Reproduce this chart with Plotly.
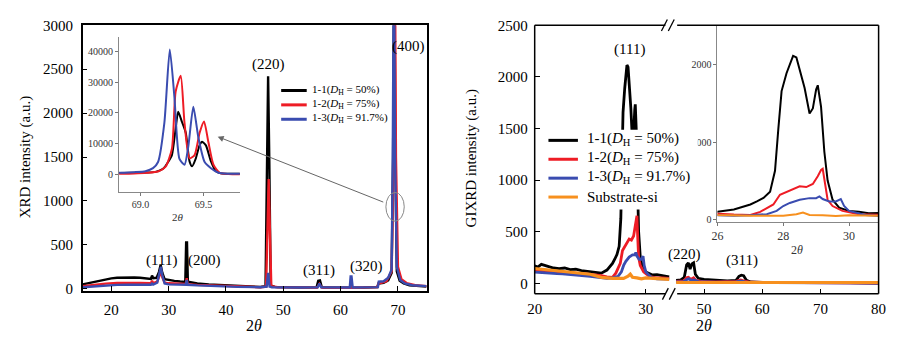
import plotly.graph_objects as go

W, H = 921, 343
def px(x): return x / W
def py(y): return 1 - y / H

# ---------------- Left panel: XRD (main) ----------------
xrd_black_x = [15, 16, 17, 18, 19, 20, 21, 22, 23, 24, 25, 26, 26.9, 27.1, 27.3, 27.9, 28.3, 28.6, 28.9, 29.3, 30, 31, 32, 32.9, 33.05, 33.2, 33.35, 34, 35, 37, 40, 43, 46, 46.9, 47.15, 47.35, 47.55, 47.8, 48.5, 50, 53, 55.8, 56.1, 56.4, 56.7, 57, 60, 61.6, 61.8, 62.0, 64, 66.4, 66.6, 67.5, 68.3, 68.9, 69.15, 69.35, 69.55, 69.8, 70.3, 71, 72, 73.5, 75]
xrd_black_y = [50, 65, 80, 95, 108, 118, 125, 129, 130, 129, 125, 118, 112, 150, 120, 125, 190, 272, 180, 110, 100, 90, 82, 78, 527, 527, 80, 70, 60, 48, 36, 27, 20, 30, 1500, 2420, 1500, 40, 22, 18, 14, 16, 90, 95, 22, 14, 12, 13, 30, 13, 14, 20, 60, 68, 95, 180, 1500, 4000, 1500, 200, 90, 60, 40, 30, 24]

xrd_red_x = [15, 17, 19, 21, 23, 25, 26.9, 27.1, 27.3, 28.0, 28.4, 28.65, 28.9, 29.3, 30, 32, 33.0, 33.15, 33.3, 35, 38, 42, 46, 47.0, 47.25, 47.45, 47.65, 47.9, 49, 52, 55.9, 56.3, 56.7, 60, 61.7, 61.8, 62, 66.4, 66.6, 68, 68.9, 69.25, 69.45, 69.65, 70, 70.6, 71.5, 73, 75]
xrd_red_y = [28, 45, 58, 65, 68, 66, 62, 90, 65, 80, 150, 210, 130, 70, 62, 55, 55, 120, 52, 44, 35, 25, 18, 25, 800, 1250, 700, 30, 18, 15, 14, 55, 14, 12, 13, 40, 12, 18, 60, 85, 200, 1500, 4000, 1500, 250, 110, 65, 40, 30]

xrd_blue_x = [15, 17, 19, 21, 23, 25, 26.9, 27.1, 27.3, 28.0, 28.4, 28.65, 28.9, 29.3, 30, 32, 33.0, 33.15, 33.3, 35, 38, 42, 46, 47.1, 47.35, 47.6, 48, 50, 53, 56.0, 56.3, 56.6, 58, 61.6, 61.75, 61.9, 62.1, 64, 66.5, 66.65, 67.5, 68.3, 68.9, 69.1, 69.3, 69.5, 69.8, 70.4, 71.2, 72.5, 75]
xrd_blue_y = [18, 28, 38, 44, 46, 46, 45, 60, 48, 70, 170, 250, 150, 60, 50, 45, 45, 100, 45, 38, 30, 22, 18, 25, 180, 25, 18, 15, 14, 16, 60, 16, 14, 15, 140, 140, 15, 14, 18, 80, 85, 125, 220, 1500, 4000, 1500, 250, 100, 60, 40, 30]

# ---------------- Left inset: (400) peak ----------------
ins_black_x = [68.83, 68.95, 69.05, 69.12, 69.18, 69.22, 69.25, 69.28, 69.30, 69.33, 69.36, 69.39, 69.41, 69.44, 69.47, 69.49, 69.52, 69.56, 69.60, 69.64, 69.70, 69.79]
ins_black_y = [400, 500, 600, 800, 1800, 4000, 6250, 15000, 20300, 17000, 13500, 4200, 2600, 5200, 9500, 10600, 9400, 4200, 1000, 300, 200, 200]

ins_red_x = [68.83, 68.95, 69.05, 69.14, 69.20, 69.25, 69.28, 69.32, 69.35, 69.39, 69.43, 69.47, 69.505, 69.54, 69.58, 69.63, 69.70, 69.79]
ins_red_y = [200, 300, 500, 900, 2500, 8300, 27000, 32000, 16700, 5200, 6250, 13500, 17200, 10400, 3100, 500, 100, 0]

ins_blue_x = [68.83, 68.95, 69.04, 69.10, 69.14, 69.19, 69.233, 69.27, 69.31, 69.35, 69.38, 69.42, 69.46, 69.51, 69.56, 69.62, 69.70, 69.79]
ins_blue_y = [500, 700, 1000, 2000, 4000, 16700, 40600, 25000, 5000, 3100, 9000, 22000, 12000, 4000, 2000, 500, 200, 150]

# ---------------- Right panel: GIXRD ----------------
gi_black_x = [20, 20.3, 20.6, 20.9, 21.3, 21.7, 22.2, 22.7, 23.2, 23.7, 24.2, 24.7, 25.2, 25.6, 26.0, 26.5, 27.0, 27.2, 27.4, 27.6, 27.75, 27.85, 27.95, 28.1, 28.3, 28.4, 28.5, 28.65, 28.8, 28.9, 29.0, 29.05, 29.15, 29.25, 29.35, 29.5, 29.7, 30.0, 30.3, 30.6, 31.0, 31.4, 31.8, 32.1, None, 45.2, 46, 46.6, 47.0, 47.3, 47.6, 47.9, 48.2, 48.5, 49, 50, 52, 54, 55.5, 56, 56.4, 56.8, 57.3, 58, 60, 65, 70, 75, 80]
gi_black_y = [170, 160, 185, 175, 160, 150, 145, 150, 135, 140, 125, 120, 115, 110, 100, 130, 195, 235, 280, 360, 630, 1165, 1660, 1890, 2115, 2095, 1950, 1700, 1370, 1435, 1680, 1735, 1455, 876, 504, 256, 153, 112, 100, 83, 85, 75, 70, 65, None, 30, 35, 60, 180, 200, 140, 190, 200, 90, 50, 40, 32, 25, 30, 70, 80, 75, 30, 15, 10, 12, 10, 8, 5]

gi_red_x = [20, 20.5, 21, 21.5, 22, 22.5, 23, 23.5, 24, 24.5, 25, 25.5, 26, 26.5, 27, 27.3, 27.5, 27.7, 27.9, 28.0, 28.2, 28.5, 28.7, 28.9, 29.05, 29.15, 29.2, 29.25, 29.35, 29.5, 29.8, 30.3, 30.9, 31.5, 32.1, None, 45.2, 46.5, 47.0, 47.3, 47.7, 48.2, 48.6, 49.5, 52, 55.5, 56.3, 57, 58, 62, 70, 80]
gi_red_y = [130, 125, 120, 118, 112, 108, 105, 100, 95, 92, 88, 85, 75, 65, 60, 100, 150, 195, 320, 340, 380, 430, 420, 460, 560, 640, 655, 500, 256, 175, 112, 70, 55, 55, 50, None, 20, 25, 55, 60, 40, 55, 30, 20, 15, 20, 35, 22, 12, 10, 8, 5]

gi_blue_x = [20, 20.5, 21, 21.5, 22, 22.5, 23, 23.5, 24, 24.5, 25, 25.5, 26, 26.5, 27, 27.5, 27.8, 28.0, 28.2, 28.5, 28.8, 29.0, 29.1, 29.2, 29.4, 29.6, 29.75, 29.85, 30.0, 30.5, 31, 31.6, 32.1, None, 45.2, 46.5, 47.1, 47.4, 47.8, 48.3, 49, 52, 55.5, 56.3, 57, 58, 62, 70, 80]
gi_blue_y = [110, 105, 100, 98, 95, 93, 90, 85, 80, 75, 70, 65, 55, 50, 55, 70, 112, 175, 215, 256, 277, 277, 300, 265, 235, 235, 265, 175, 112, 58, 45, 45, 42, None, 15, 18, 40, 45, 30, 35, 18, 12, 15, 25, 15, 10, 8, 7, 5]

gi_orange_x = [20, 21, 22, 23, 24, 25, 26, 27, 28, 28.4, 28.6, 28.8, 29.2, 29.6, 30, 30.5, 31, 31.5, 32.1, None, 45.2, 50, 55, 60, 65, 70, 75, 80]
gi_orange_y = [145, 135, 125, 115, 100, 90, 60, 50, 50, 70, 90, 60, 55, 45, 55, 50, 45, 45, 40, None, 10, 10, 10, 10, 10, 10, 10, 10]

xrd_names = ['1-1(<i>D</i><sub>H</sub> = 50%)', '1-2(<i>D</i><sub>H</sub> = 75%)', '1-3(<i>D</i><sub>H</sub> = 91.7%)']
gi_names = xrd_names + ['Substrate-si']

BLACK, RED, BLUE, ORANGE = '#000000', '#ee1c25', '#3a4cb0', '#f7901e'
FONT = 'Liberation Serif'

fig = go.Figure()

left_main = [(xrd_black_x, xrd_black_y, BLACK), (xrd_red_x, xrd_red_y, RED), (xrd_blue_x, xrd_blue_y, BLUE)]
for (xs, ys, c), nm in zip(left_main, xrd_names):
    fig.add_trace(go.Scatter(x=xs, y=ys, mode='lines', line=dict(color=c, width=2.4),
                             name=nm, showlegend=False, xaxis='x', yaxis='y'))

left_ins = [(ins_black_x, ins_black_y, BLACK), (ins_red_x, ins_red_y, RED), (ins_blue_x, ins_blue_y, BLUE)]
for xs, ys, c in left_ins:
    fig.add_trace(go.Scatter(x=xs, y=ys, mode='lines', line=dict(color=c, width=2, shape='spline', smoothing=0.6),
                             showlegend=False, xaxis='x2', yaxis='y2'))

right = [(gi_black_x, gi_black_y, BLACK, 2.8), (gi_red_x, gi_red_y, RED, 2.8),
         (gi_blue_x, gi_blue_y, BLUE, 2.8), (gi_orange_x, gi_orange_y, ORANGE, 3.2)]
for (xs, ys, c, w), nm in zip(right, gi_names):
    fig.add_trace(go.Scatter(x=xs, y=ys, mode='lines', line=dict(color=c, width=w),
                             name=nm, showlegend=False, xaxis='x3', yaxis='y3'))
for xs, ys, c, w in right:
    fig.add_trace(go.Scatter(x=xs, y=ys, mode='lines', line=dict(color=c, width=w),
                             showlegend=False, xaxis='x4', yaxis='y3'))
for xs, ys, c, w in right:
    fig.add_trace(go.Scatter(x=xs, y=ys, mode='lines', line=dict(color=c, width=2),
                             showlegend=False, xaxis='x5', yaxis='y5'))

main_tick = dict(family=FONT, size=15, color='black')
common = dict(showgrid=False, zeroline=False, tickfont=main_tick, ticks='inside', ticklen=5,
              tickcolor='black', tickwidth=1.2)
inset_common = dict(showgrid=False, zeroline=False, ticks='outside', ticklen=3, tickcolor='#777',
                    showline=True, linecolor='#888', linewidth=1, mirror=False)

fig.update_layout(
    width=W, height=H, margin=dict(l=0, r=0, t=0, b=0),
    paper_bgcolor='white', plot_bgcolor='white', showlegend=False,
    font=dict(family=FONT, color='black'),
    xaxis=dict(domain=[px(76), px(426)], range=[15, 75], anchor='y', tickvals=[20, 30, 40, 50, 60, 70],
               showline=True, mirror=True, linecolor='black', linewidth=1.5, ticklabelstandoff=4, **common),
    yaxis=dict(domain=[py(295), py(18)], range=[-25, 3000], anchor='x', tickvals=[0, 500, 1000, 1500, 2000, 2500, 3000],
               showline=True, mirror=True, linecolor='black', linewidth=1.5, ticklabelstandoff=5, **common),
    xaxis2=dict(domain=[px(113), px(236)], range=[68.83, 69.79], anchor='y2', tickvals=[69.0, 69.5],
                ticktext=['69.0', '69.5'], tickfont=dict(family=FONT, size=10, color='#333'), **inset_common),
    yaxis2=dict(domain=[py(192), py(30)], range=[-5800, 44700], anchor='x2', tickvals=[0, 10000, 20000, 30000, 40000],
                tickformat='d', tickfont=dict(family=FONT, size=10, color='#333'), **inset_common),
    xaxis3=dict(domain=[px(536), px(674)], range=[20, 32.2], anchor='y3', tickvals=[20, 30],
                showline=False, ticklabelstandoff=4, **common),
    xaxis4=dict(domain=[px(677), px(886)], range=[44.7, 80], anchor='y3', tickvals=[50, 60, 70, 80],
                showline=False, ticklabelstandoff=4, **common),
    yaxis3=dict(domain=[py(298), py(18)], range=[-100, 2500], anchor='x3', tickvals=[0, 500, 1000, 1500, 2000, 2500],
                showline=False, ticklabelstandoff=6, **common),
    xaxis5=dict(domain=[px(722), px(886)], range=[26, 30.9], anchor='y5', tickvals=[26, 28, 30],
                tickfont=dict(family=FONT, size=12, color='#333'), **inset_common),
    yaxis5=dict(domain=[py(223), py(18)], range=[-30, 2510], anchor='x5', tickvals=[0, 1000, 2000],
                tickformat='d', tickfont=dict(family=FONT, size=10, color='#333'), **inset_common),
)

ann = []
def label(text, x, y, size=15, angle=0, color='black', anchor='center'):
    ann.append(dict(text=text, x=px(x), y=py(y), xref='paper', yref='paper', showarrow=False,
                    xanchor=anchor, yanchor='middle', textangle=angle,
                    font=dict(family=FONT, size=size, color=color)))

for t, x, y in [('(111)', 156, 263), ('(200)', 200, 263), ('(220)', 265, 59), ('(311)', 317, 274),
                ('(320)', 365, 269), ('(400)', 408, 40),
                ('(111)', 632, 43), ('(220)', 688, 257), ('(311)', 747, 263)]:
    label(t, x, y)
label('XRD intensity (a.u.)', 18, 156, size=15, angle=-90)
label('GIXRD intensity (a.u.)', 472, 157, size=15, angle=-90)
label('2<i>θ</i>', 250, 331, size=16)
label('2<i>θ</i>', 708, 331, size=16)
label('2<i>θ</i>', 173, 218, size=11, color='#333')
label('2<i>θ</i>', 803, 252, size=12, color='#333')

ann.append(dict(text='', x=38.55, y=1732, xref='x', yref='y', ax=67.7, ay=980, axref='x', ayref='y',
                showarrow=True, arrowhead=2, arrowsize=1.2, arrowwidth=1, arrowcolor='#666'))

shapes = [dict(type='circle', xref='x', yref='y', x0=67.9, x1=71.1, y0=769, y1=1096,
               line=dict(color='#888', width=1))]
def seg(x0, y0, x1, y1, w=1.5, color='black'):
    shapes.append(dict(type='line', xref='paper', yref='paper', x0=px(x0), y0=py(y0), x1=px(x1), y1=py(y1),
                       line=dict(color=color, width=w)))
seg(536, 18, 669, 18); seg(681, 18, 886, 18)
seg(536, 298, 669, 298); seg(681, 298, 886, 298)
seg(536, 18, 536, 298); seg(886, 18, 886, 298)
seg(665, 24, 671, 12, 1.3); seg(672, 24, 678, 12, 1.3)
seg(666, 304, 672, 292, 1.3); seg(673, 304, 679, 292, 1.3)

# legends (drawn manually so the rows keep the reference spacing)
left_colors = [BLACK, RED, BLUE]
for i, (nm, c) in enumerate(zip(xrd_names, left_colors)):
    yy = 86 + i * 15
    seg(278, yy, 304, yy, 3, c)
    label(nm, 307, yy - 1, size=11, anchor='left')

shapes.append(dict(type='rect', xref='paper', yref='paper', x0=px(545), x1=px(702), y0=py(210), y1=py(127),
                   fillcolor='white', line=dict(width=0)))
right_colors = [BLACK, RED, BLUE, ORANGE]
for i, (nm, c) in enumerate(zip(gi_names, right_colors)):
    yy = 138 + i * 19.7
    seg(550, yy, 580, yy, 3, c)
    label(nm, 587, yy - (1 if i < 3 else 0), size=15, anchor='left')

fig.update_layout(annotations=ann, shapes=shapes)
fig.write_html('out.html')
